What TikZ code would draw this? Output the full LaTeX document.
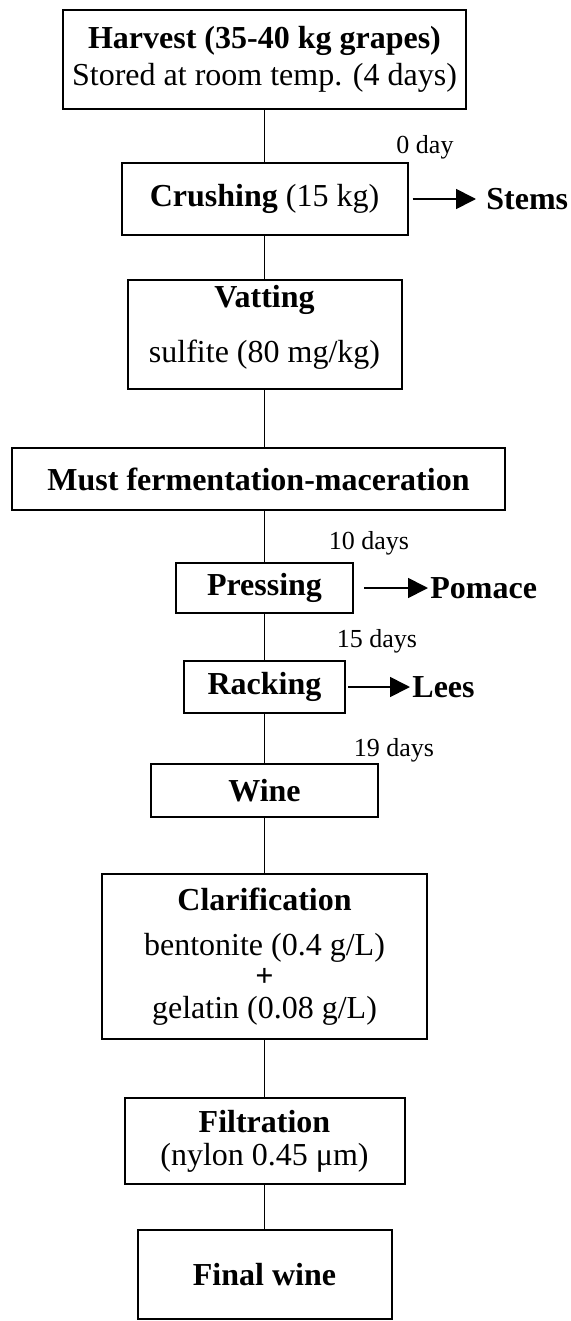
\documentclass[tikz,border=0pt]{standalone}
\usepackage{fontspec}
\setmainfont{Liberation Serif}
\usetikzlibrary{arrows.meta}

\begin{document}
\begin{tikzpicture}[x=0.5pt,y=-0.5pt]
\tikzset{stage/.style={draw,line width=1pt,inner sep=0pt,align=center,font=\fontsize{16}{18.5}\selectfont},
  days/.style={font=\fontsize{13}{15}\selectfont},
  waste/.style={anchor=west,inner sep=1pt,font=\fontsize{16}{18.5}\selectfont\bfseries},
  link/.style={line width=0.9pt},
  outflow/.style={line width=0.85pt,-{Triangle[length=10pt,width=10pt]}}}
\useasboundingbox (0,0) rectangle (571,1321);
\node[stage,minimum width=201.5pt,minimum height=49.5pt] (harvest) at (264.5,59.5) {\textbf{Harvest (35-40 kg grapes)}\\Stored at room temp. (4 days)};
\node[stage,minimum width=143pt,minimum height=36pt] (crushing) at (264.5,199) {\textbf{Crushing} (15 kg)};
\node[stage,minimum width=137pt,minimum height=54.5pt] (vatting) at (264.5,334.5) {\textbf{Vatting}\\[9pt]sulfite (80 mg/kg)\rule[-10.5pt]{0pt}{10.5pt}};
\node[stage,minimum width=246.5pt,minimum height=31pt] (must) at (258.5,479) {\textbf{Must fermentation-maceration}};
\node[stage,minimum width=88.5pt,minimum height=25pt] (pressing) at (264.5,588) {\textbf{Pressing}};
\node[stage,minimum width=80.5pt,minimum height=26pt] (racking) at (264.5,687) {\textbf{Racking}};
\node[stage,minimum width=113.5pt,minimum height=26.5pt] (wine) at (264.5,790.5) {\textbf{Wine}};
\node[stage,minimum width=162.5pt,minimum height=82.5pt] (clarif) at (264.5,956.5) {\textbf{Clarification}\\[4pt]bentonite (0.4 g/L)\\[-2.75pt]\textbf{+}\\[-2.75pt]gelatin (0.08 g/L)};
\node[stage,minimum width=140pt,minimum height=43pt] (filtration) at (264.5,1141) {\textbf{Filtration}\\[-2pt](nylon 0.45 μm)};
\node[stage,minimum width=127pt,minimum height=44.5pt] (finalwine) at (264.5,1274.5) {\textbf{Final wine}};
% times
\node[days] (d0) at (425,147) {0 day};
\node[days] (d10) at (369,543) {10 days};
\node[days] (d15) at (377,641) {15 days};
\node[days] (d19) at (394,750) {19 days};
% by-products
\node[waste] (stems) at (484,199) {Stems};
\node[waste] (pomace) at (428,588) {Pomace};
\node[waste] (lees) at (410,687) {Lees};
\foreach \a/\b in {harvest/crushing,crushing/vatting,pressing/racking,racking/wine,wine/clarif,clarif/filtration,filtration/finalwine}
  \draw[link] (\a) -- (\b);
\draw[link] (vatting) -- (vatting |- must.north);
\draw[link] (must.south -| pressing) -- (pressing);
\draw[outflow,shorten >=4pt] ([xshift=2pt]crushing.east) -- (stems.west);
\draw[outflow] ([xshift=5pt]pressing.east) -- (pomace.west);
\draw[outflow] ([xshift=1pt]racking.east) -- (lees.west);
\end{tikzpicture}
\end{document}
